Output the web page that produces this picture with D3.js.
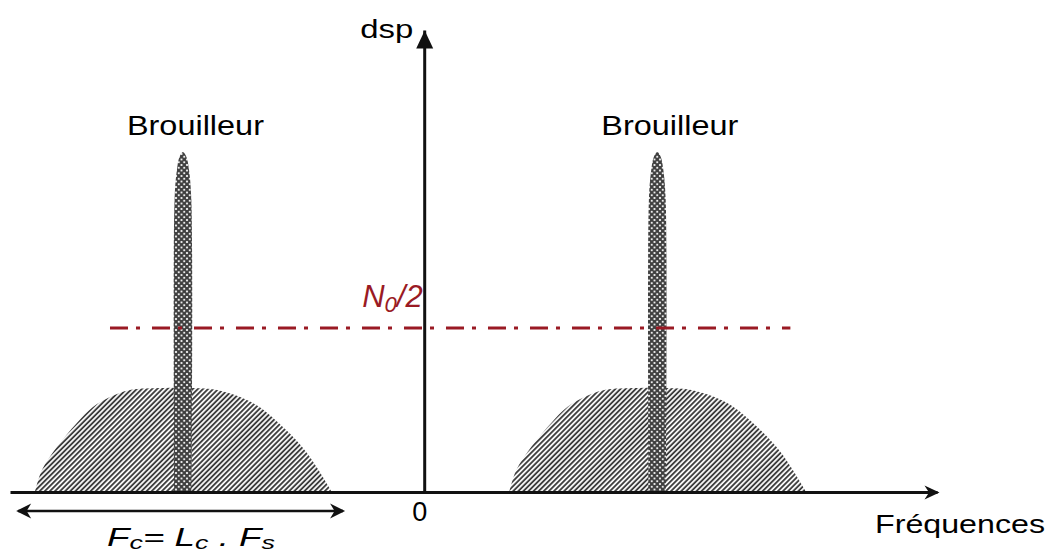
<!DOCTYPE html>
<html>
<head>
<meta charset="utf-8">
<script src="https://cdn.jsdelivr.net/npm/d3@7"></script>
<style>
  body { margin: 0; background: #fff; }
  svg text { font-family: "Liberation Sans", Arial, sans-serif; fill: #000; }
</style>
</head>
<body>
<div id="chart"></div>
<script>
const width = 1058;
const height = 559;

// frequency axis (unit = jammer offset), dsp axis (unit = N0/2)
const freqDomain = [-1.777, 2.2];
const dspDomain = [0, 2.817];

const jammerFreqs = [-1.035, 1.0];
const jammerLabels = ['Brouilleur', 'Brouilleur'];

// spread signal spectrum around each jammer
const humpOffsets = [-0.635, -0.605, -0.541, -0.455, -0.386, -0.313, -0.227, -0.086, 0.043, 0.146, 0.300, 0.429, 0.532, 0.639];
const humpLevels  = [0, 0.134, 0.274, 0.421, 0.518, 0.579, 0.622, 0.634, 0.634, 0.622, 0.543, 0.396, 0.238, 0];

// narrow band jammer
const spikeOffsets = [-0.037, -0.036, -0.026, -0.015, 0, 0.015, 0.026, 0.036, 0.037];
const spikeLevels  = [0, 1.78, 1.963, 2.043, 2.073, 2.043, 1.963, 1.78, 0];

const noiseLevel = 1;
const noiseSpan = [-1.348, 1.571];
const bandSpan = [-1.742, -0.348];

const x = d3.scaleLinear().domain(freqDomain).range([10, 937]);
const y = d3.scaleLinear().domain(dspDomain).range([492, 30]);

const svg = d3.select('#chart')
    .append('svg')
    .attr('width', width)
    .attr('height', height);

const defs = svg.append('defs');

// hatch for the spread spectrum
const hatch = defs.append('pattern')
    .attr('id', 'hatch')
    .attr('patternUnits', 'userSpaceOnUse')
    .attr('width', 3.6)
    .attr('height', 10)
    .attr('patternTransform', 'rotate(45)');
hatch.append('line')
    .attr('x1', 1).attr('y1', 0)
    .attr('x2', 1).attr('y2', 10)
    .attr('stroke', '#333')
    .attr('stroke-width', 1.8);

// chain-like dots for the jammer
const dots = defs.append('pattern')
    .attr('id', 'dots')
    .attr('patternUnits', 'userSpaceOnUse')
    .attr('width', 5.5)
    .attr('height', 5.5);
dots.append('rect').attr('width', 5.5).attr('height', 5.5).attr('fill', '#fff');
[[0, 0], [5.5, 0], [0, 5.5], [5.5, 5.5], [2.75, 2.75]].forEach(p => {
    dots.append('circle')
        .attr('cx', p[0]).attr('cy', p[1]).attr('r', 2)
        .attr('fill', 'none')
        .attr('stroke', '#3c3c3c')
        .attr('stroke-width', 1.5);
});

const barbed = (id, len, half) => {
    defs.append('marker')
        .attr('id', id)
        .attr('markerUnits', 'userSpaceOnUse')
        .attr('viewBox', `${-len - 1} ${-half - 1} ${len + 4} ${half * 2 + 2}`)
        .attr('markerWidth', len + 4)
        .attr('markerHeight', half * 2 + 2)
        .attr('refX', -2)
        .attr('refY', 0)
        .attr('orient', 'auto-start-reverse')
        .append('path')
        .attr('d', `M0,0L${-len},${-half}L${-len * 0.7},0L${-len},${half}Z`)
        .attr('fill', '#111');
};
barbed('arrowX', 15, 7);
barbed('arrowBand', 15, 7.5);

defs.append('marker')
    .attr('id', 'arrowY')
    .attr('markerUnits', 'userSpaceOnUse')
    .attr('viewBox', '-19 -10 20 20')
    .attr('markerWidth', 20)
    .attr('markerHeight', 20)
    .attr('refX', 0)
    .attr('refY', 0)
    .attr('orient', 'auto')
    .append('path')
    .attr('d', 'M0,0L-18,-8.5L-18,8.5Z')
    .attr('fill', '#111');

const area = d3.area()
    .x(d => x(d.f))
    .y0(y(0))
    .y1(d => y(d.v))
    .curve(d3.curveCatmullRom.alpha(0.5));

const plotHumps = () => {
    svg.selectAll('path.hump')
        .data(jammerFreqs)
        .enter()
        .append('path')
        .attr('class', 'hump')
        .attr('d', fc => area(humpOffsets.map((o, i) => ({ f: fc + o, v: humpLevels[i] }))))
        .attr('fill', 'url(#hatch)');
};

const plotSpikes = () => {
    svg.selectAll('path.spike')
        .data(jammerFreqs)
        .enter()
        .append('path')
        .attr('class', 'spike')
        .attr('d', fc => area(spikeOffsets.map((o, i) => ({ f: fc + o, v: spikeLevels[i] }))))
        .attr('fill', 'url(#dots)');
};

const plotNoise = () => {
    svg.append('line')
        .attr('x1', x(noiseSpan[0]))
        .attr('x2', x(noiseSpan[1]))
        .attr('y1', y(noiseLevel))
        .attr('y2', y(noiseLevel))
        .attr('stroke', '#9a1a24')
        .attr('stroke-width', 3)
        .attr('stroke-dasharray', '18,8,4,12');

    const n = svg.append('text')
        .attr('x', x(0) - 62)
        .attr('y', y(noiseLevel) - 21)
        .attr('font-size', 31)
        .attr('font-style', 'italic')
        .style('fill', '#9a1a24');
    n.append('tspan').text('N');
    n.append('tspan').attr('font-size', 22).attr('dy', 5).text('0');
    n.append('tspan').attr('dy', -5).text('/2');
};

const plotAxis = () => {
    const xAxis = d3.axisBottom(x)
        .tickValues([0])
        .tickSize(0)
        .tickSizeOuter(0)
        .tickPadding(10)
        .tickFormat(d3.format('d'));
    const gx = svg.append('g')
        .attr('transform', 'translate(0,' + y(0) + ')')
        .call(xAxis);
    gx.select('.domain')
        .attr('stroke', '#111')
        .attr('stroke-width', 3)
        .attr('marker-end', 'url(#arrowX)');
    gx.selectAll('.tick text')
        .attr('font-size', 27)
        .attr('dx', -5)
        .attr('font-family', '"Liberation Sans", Arial, sans-serif')
        .style('fill', '#000');

    const yAxis = d3.axisLeft(y)
        .tickValues([])
        .tickSizeOuter(0);
    const gy = svg.append('g')
        .attr('transform', 'translate(' + x(0) + ',0)')
        .call(yAxis);
    gy.select('.domain')
        .attr('stroke', '#111')
        .attr('stroke-width', 3)
        .attr('marker-end', 'url(#arrowY)');
};

const plotLabels = () => {
    svg.selectAll('text.jammer')
        .data(jammerFreqs)
        .enter()
        .append('text')
        .attr('class', 'jammer')
        .attr('x', fc => x(fc) - 56)
        .attr('y', 135)
        .attr('font-size', 28.5)
        .attr('textLength', 137)
        .attr('lengthAdjust', 'spacingAndGlyphs')
        .text((d, i) => jammerLabels[i]);

    svg.append('text')
        .attr('x', x(0) - 64)
        .attr('y', 38)
        .attr('font-size', 25)
        .attr('textLength', 53)
        .attr('lengthAdjust', 'spacingAndGlyphs')
        .text('dsp');

    svg.append('text')
        .attr('x', 875)
        .attr('y', 533)
        .attr('font-size', 26)
        .attr('textLength', 170)
        .attr('lengthAdjust', 'spacingAndGlyphs')
        .text('Fréquences');

    // spreading band
    svg.append('line')
        .attr('x1', x(bandSpan[0]))
        .attr('x2', x(bandSpan[1]))
        .attr('y1', y(0) + 19)
        .attr('y2', y(0) + 19)
        .attr('stroke', '#111')
        .attr('stroke-width', 2.5)
        .attr('marker-start', 'url(#arrowBand)')
        .attr('marker-end', 'url(#arrowBand)');

    const f = svg.append('text')
        .attr('x', 107)
        .attr('y', 546)
        .attr('font-size', 26)
        .attr('font-style', 'italic')
        .attr('textLength', 168)
        .attr('lengthAdjust', 'spacingAndGlyphs');
    f.append('tspan').text('F');
    f.append('tspan').attr('font-size', 19).attr('dy', 3).text('c');
    f.append('tspan').attr('dy', -3).text('= L');
    f.append('tspan').attr('font-size', 19).attr('dy', 3).text('c');
    f.append('tspan').attr('dy', -3).text(' . F');
    f.append('tspan').attr('font-size', 19).attr('dy', 3).text('s');
};

plotHumps();
plotSpikes();
plotNoise();
plotAxis();
plotLabels();
</script>
</body>
</html>
